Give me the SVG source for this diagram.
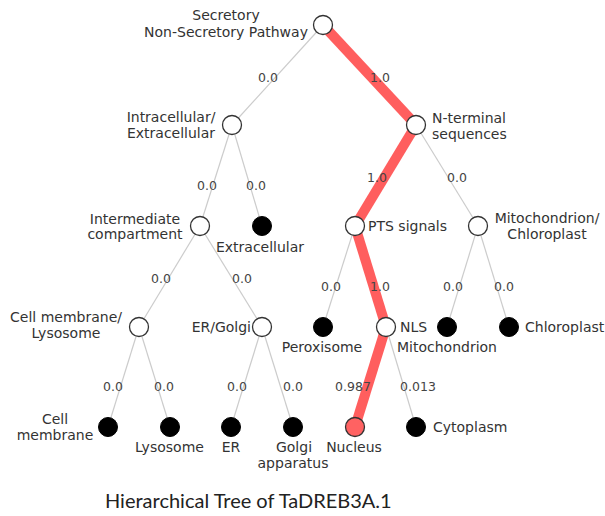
<svg xmlns="http://www.w3.org/2000/svg" width="605" height="516" viewBox="0 0 605 516">
  <style>
    .edge { stroke: #cccccc; stroke-width: 1.2; fill: none; }
    .path { stroke: #ff5e5e; stroke-width: 10; fill: none; stroke-linecap: butt; }
    .inner { fill: #ffffff; stroke: #333333; stroke-width: 1.3; }
    .leaf { fill: #000000; stroke: #000000; stroke-width: 1; }
    .hit { fill: #ff6262; stroke: #333333; stroke-width: 1.3; }
    .lbl { font-family: "DejaVu Sans", Verdana, sans-serif; font-size: 14px; fill: #333333; }
    .prob { font-family: "DejaVu Sans", Verdana, sans-serif; font-size: 12.5px; fill: #444444; text-anchor: middle; }
    .title { font-family: Lato, "Open Sans", sans-serif; font-size: 20px; fill: #222222; }
    .mid { text-anchor: middle; }
    .end { text-anchor: end; }
  </style>

  <rect width="605" height="516" fill="#ffffff"/>

  <!-- connectors -->
  <g id="connectors">
    <line class="edge" x1="323" y1="25" x2="232" y2="125"/>
    <line class="edge" x1="232" y1="125" x2="200" y2="226"/>
    <line class="edge" x1="232" y1="125" x2="262" y2="226"/>
    <line class="edge" x1="416" y1="125" x2="478" y2="226"/>
    <line class="edge" x1="200" y1="226" x2="139" y2="327"/>
    <line class="edge" x1="200" y1="226" x2="262" y2="327"/>
    <line class="edge" x1="355" y1="226" x2="323" y2="327"/>
    <line class="edge" x1="478" y1="226" x2="447" y2="327"/>
    <line class="edge" x1="478" y1="226" x2="509" y2="327"/>
    <line class="edge" x1="139" y1="327" x2="108" y2="427"/>
    <line class="edge" x1="139" y1="327" x2="170" y2="427"/>
    <line class="edge" x1="262" y1="327" x2="231" y2="427"/>
    <line class="edge" x1="262" y1="327" x2="293" y2="427"/>
    <line class="edge" x1="386" y1="327" x2="416" y2="427"/>
    <!-- highlighted route -->
    <line class="path" x1="323" y1="25" x2="416" y2="125"/>
    <line class="path" x1="416" y1="125" x2="355" y2="226"/>
    <line class="path" x1="355" y1="226" x2="386" y2="327"/>
    <line class="path" x1="386" y1="327" x2="355" y2="427"/>
  </g>

  <!-- probabilities -->
  <g id="probabilities">
    <text class="prob" x="268" y="81.5">0.0</text>
    <text class="prob" x="380" y="81.5">1.0</text>
    <text class="prob" x="207" y="190">0.0</text>
    <text class="prob" x="256" y="190">0.0</text>
    <text class="prob" x="377" y="181.5">1.0</text>
    <text class="prob" x="457" y="181.5">0.0</text>
    <text class="prob" x="161" y="282.5">0.0</text>
    <text class="prob" x="242" y="282.5">0.0</text>
    <text class="prob" x="331" y="291">0.0</text>
    <text class="prob" x="380" y="291">1.0</text>
    <text class="prob" x="453" y="291">0.0</text>
    <text class="prob" x="504" y="291">0.0</text>
    <text class="prob" x="113" y="390.5">0.0</text>
    <text class="prob" x="164" y="390.5">0.0</text>
    <text class="prob" x="237" y="390.5">0.0</text>
    <text class="prob" x="293" y="390.5">0.0</text>
    <text class="prob" x="353" y="390.5">0.987</text>
    <text class="prob" x="418" y="390.5">0.013</text>
  </g>

  <!-- nodes -->
  <g id="root">
    <circle class="inner" cx="323" cy="25" r="9.5"/>
    <text class="lbl mid" x="226" y="20">Secretory</text>
    <text class="lbl mid" x="226" y="37">Non-Secretory Pathway</text>
  </g>
  <g id="intra-extra">
    <circle class="inner" cx="232" cy="125" r="9.5"/>
    <text class="lbl mid" x="171" y="122">Intracellular/</text>
    <text class="lbl mid" x="171" y="138">Extracellular</text>
  </g>
  <g id="n-terminal">
    <circle class="inner" cx="416" cy="125" r="9.5"/>
    <text class="lbl" x="432" y="123">N-terminal</text>
    <text class="lbl" x="432" y="138.5">sequences</text>
  </g>
  <g id="intermediate">
    <circle class="inner" cx="200" cy="226" r="9.5"/>
    <text class="lbl mid" x="135" y="223.5">Intermediate</text>
    <text class="lbl mid" x="135" y="238.5">compartment</text>
  </g>
  <g id="extracellular">
    <circle class="leaf" cx="262" cy="226" r="9.5"/>
    <text class="lbl mid" x="260" y="252">Extracellular</text>
  </g>
  <g id="pts">
    <circle class="inner" cx="355" cy="226" r="9.5"/>
    <text class="lbl" x="368" y="231">PTS signals</text>
  </g>
  <g id="mito-chloro">
    <circle class="inner" cx="478" cy="226" r="9.5"/>
    <text class="lbl mid" x="547" y="223">Mitochondrion/</text>
    <text class="lbl mid" x="547" y="238.5">Chloroplast</text>
  </g>
  <g id="membrane-lysosome">
    <circle class="inner" cx="139" cy="327" r="9.5"/>
    <text class="lbl mid" x="66" y="322">Cell membrane/</text>
    <text class="lbl mid" x="66" y="338">Lysosome</text>
  </g>
  <g id="er-golgi">
    <circle class="inner" cx="262" cy="327" r="9.5"/>
    <text class="lbl end" x="251" y="332">ER/Golgi</text>
  </g>
  <g id="peroxisome">
    <circle class="leaf" cx="323" cy="327" r="9.5"/>
    <text class="lbl mid" x="322" y="352">Peroxisome</text>
  </g>
  <g id="nls">
    <circle class="inner" cx="386" cy="327" r="9.5"/>
    <text class="lbl" x="400" y="332">NLS</text>
  </g>
  <g id="mitochondrion">
    <circle class="leaf" cx="447" cy="327" r="9.5"/>
    <text class="lbl mid" x="447" y="352">Mitochondrion</text>
  </g>
  <g id="chloroplast">
    <circle class="leaf" cx="509" cy="327" r="9.5"/>
    <text class="lbl" x="525" y="332">Chloroplast</text>
  </g>
  <g id="cell-membrane">
    <circle class="leaf" cx="108" cy="427" r="9.5"/>
    <text class="lbl mid" x="55" y="424">Cell</text>
    <text class="lbl mid" x="55" y="440">membrane</text>
  </g>
  <g id="lysosome">
    <circle class="leaf" cx="170" cy="427" r="9.5"/>
    <text class="lbl mid" x="169.5" y="452">Lysosome</text>
  </g>
  <g id="er">
    <circle class="leaf" cx="231" cy="427" r="9.5"/>
    <text class="lbl mid" x="231" y="452">ER</text>
  </g>
  <g id="golgi">
    <circle class="leaf" cx="293" cy="427" r="9.5"/>
    <text class="lbl mid" x="294" y="452">Golgi</text>
    <text class="lbl mid" x="293" y="468">apparatus</text>
  </g>
  <g id="nucleus">
    <circle class="hit" cx="355" cy="427" r="9.5"/>
    <text class="lbl mid" x="354" y="452">Nucleus</text>
  </g>
  <g id="cytoplasm">
    <circle class="leaf" cx="416" cy="427" r="9.5"/>
    <text class="lbl" x="433" y="432">Cytoplasm</text>
  </g>

  <text class="title" x="105" y="508">Hierarchical Tree of TaDREB3A.1</text>
</svg>
